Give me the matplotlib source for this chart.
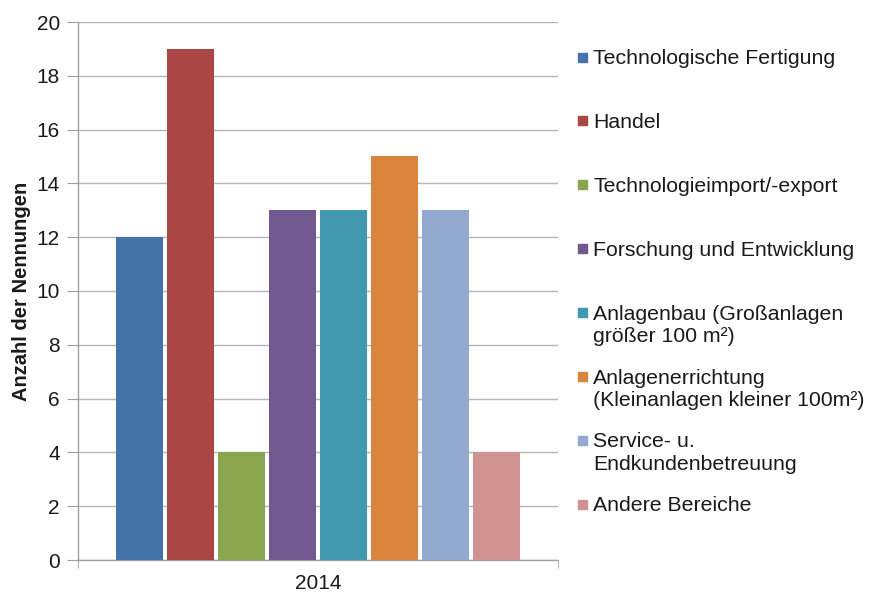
import matplotlib
matplotlib.use("Agg")
import matplotlib.pyplot as plt
from matplotlib.patches import Rectangle

plt.rcParams['font.family'] = ['Liberation Sans', 'DejaVu Sans']

categories = [
    "Technologische Fertigung",
    "Handel",
    "Technologieimport/-export",
    "Forschung und Entwicklung",
    "Anlagenbau (Großanlagen\ngrößer 100 m²)",
    "Anlagenerrichtung\n(Kleinanlagen kleiner 100m²)",
    "Service- u.\nEndkundenbetreuung",
    "Andere Bereiche",
]
values = [12, 19, 4, 13, 13, 15, 13, 4]
colors = ["#4572A7", "#AA4643", "#89A54E", "#71588F", "#4198AF", "#DB843D", "#93A9CF", "#D19392"]
year_label = "2014"
yticks = [0, 2, 4, 6, 8, 10, 12, 14, 16, 18, 20]

W, H = 869, 593
fig = plt.figure(figsize=(W / 100, H / 100), dpi=100)
ax = fig.add_axes([78 / W, 1 - 560 / H, 480 / W, (560 - 22) / H])

n = len(values)
for i, (v, c) in enumerate(zip(values, colors)):
    ax.bar(i - (n - 1) / 2, v, width=0.93, color=c, zorder=3)

ax.set_xlim(-4.7, 4.7)
ax.set_ylim(0, 20)
ax.set_yticks(yticks)
ax.set_xticks([0])
ax.set_xticklabels([year_label])
ax.set_xticks([-4.7, 4.7], minor=True)
ax.tick_params(axis='x', which='major', length=0, labelsize=15, pad=10, colors='#1a1a1a')
ax.tick_params(axis='x', which='minor', length=6, color='#A0A0A0', direction='out')
ax.tick_params(axis='y', length=8, color='#A0A0A0', labelsize=15, labelcolor='#1a1a1a', pad=5)
ax.grid(axis='y', color='#B4B4B4', linewidth=1, zorder=0)
for s in ['top', 'right']:
    ax.spines[s].set_visible(False)
for s in ['left', 'bottom']:
    ax.spines[s].set_color('#A0A0A0')
    ax.spines[s].set_linewidth(1)
ax.set_ylabel("Anzahl der Nennungen", fontsize=14.5, fontweight='bold', color='#1a1a1a', labelpad=4)

# legend drawn manually with uniform entry spacing
top_y = 57
step = 63.9
for i, (lab, c) in enumerate(zip(categories, colors)):
    y = top_y + i * step
    fig.patches.append(Rectangle((578 / W, 1 - (y + 4.5) / H), 9 / W, 9 / H,
                                 transform=fig.transFigure, color=c, figure=fig))
    fig.text(593 / W, 1 - (y - 8) / H, lab, fontsize=15.3, color='#1a1a1a',
             va='top', ha='left', linespacing=1.25)

fig.savefig("out.png", dpi=100)
